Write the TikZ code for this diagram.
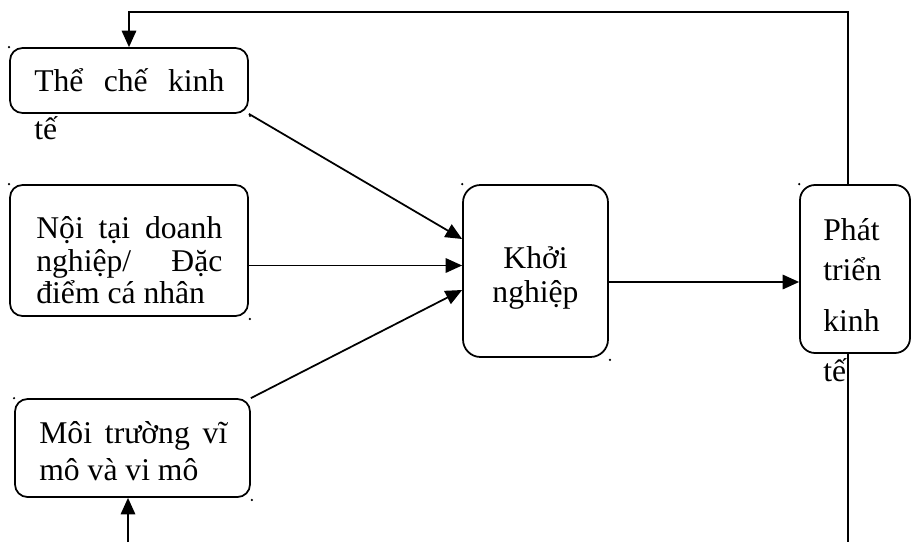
\documentclass[tikz,border=0pt]{standalone}
\usepackage{fontspec}
\setmainfont{Liberation Serif}
\usetikzlibrary{arrows.meta, positioning, calc}

\tikzset{
  box/.style={draw, line width=1pt, rounded corners=0.25cm, inner sep=0pt},
  txt/.style={anchor=base west, inner sep=0pt, font=\fontsize{18}{19}\selectfont},
  ctxt/.style={anchor=base, inner sep=0pt, font=\fontsize{18}{19}\selectfont},
  conn/.style={line width=1pt},
}

\begin{document}
\begin{tikzpicture}[>={Triangle[length=3.3mm, width=2.9mm]}]
  \useasboundingbox (0,0) rectangle (18.22,10.84);
  % boxes
  \node[box, minimum width=4.76cm, minimum height=1.30cm] (tce) at (2.58,9.23) {};
  \node[box, minimum width=4.76cm, minimum height=2.62cm] (noitai) at (2.58,5.83) {};
  \node[box, minimum width=4.70cm, minimum height=1.96cm] (moi) at (2.65,1.88) {};
  \node[box, rounded corners=0.35cm, minimum width=2.90cm, minimum height=3.44cm] (khoi) at (10.71,5.42) {};
  \node[box, rounded corners=0.3cm, minimum width=2.20cm, minimum height=3.36cm] (phat) at (17.10,5.46) {};

  % texts
  \node[txt] (tce1) at (0.68,9.02) {\makebox[3.8cm][s]{Thể chế kinh}};
  \node[txt] (tce2) at (0.68,8.06) {tế};
  \node[txt] (noi1) at (0.72,6.08) {\makebox[3.72cm][s]{Nội tại doanh}};
  \node[txt] (noi2) at (0.72,5.42) {\makebox[3.72cm][s]{nghiệp/ Đặc}};
  \node[txt] (noi3) at (0.72,4.78) {điểm cá nhân};
  \node[txt] (moi1) at (0.78,1.98) {\makebox[3.76cm][s]{Môi trường vĩ}};
  \node[txt] (moi2) at (0.78,1.24) {mô và vi mô};
  \node[ctxt] (khoi1) at (10.71,5.48) {Khởi};
  \node[ctxt] (khoi2) at (10.71,4.80) {nghiệp};
  \node[txt] (phat1) at (16.46,6.04) {Phát};
  \node[txt] (phat2) at (16.46,5.24) {triển};
  \node[txt] (phat3) at (16.46,4.22) {kinh};
  \node[txt] (phat4) at (16.46,3.22) {tế};

  % anchor dots
  \foreach \b in {tce,noitai,moi,khoi} {
    \fill (\b.north west) circle (0.025);
    \fill ([shift={(0.02,-0.04)}]\b.south east) circle (0.025);
  }
  \fill (phat.north west) circle (0.025);

  % connectors
  \coordinate (pbot) at (16.96,0);
  \coordinate (mbot) at (2.56,0);
  \draw[->, conn] ([xshift=-1.4mm]phat.north) -- ++(0,3.44) -| (tce.north);
  \draw[conn] ([xshift=-1.4mm]phat.south) -- (pbot);
  \draw[->, conn] (mbot) -- (mbot |- moi.south);
  \draw[->, conn] (tce.south east) -- ([yshift=6.4mm]khoi.west);
  \draw[->, conn] ([yshift=-3mm]noitai.east) -- ([yshift=-3mm]noitai.east -| khoi.west);
  \draw[->, conn] (moi.north east) -- ([yshift=-3.8mm]khoi.west);
  \draw[->, conn] ([yshift=-2.2mm]khoi.east) -- ([yshift=-2.2mm]khoi.east -| phat.west);
\end{tikzpicture}
\end{document}
